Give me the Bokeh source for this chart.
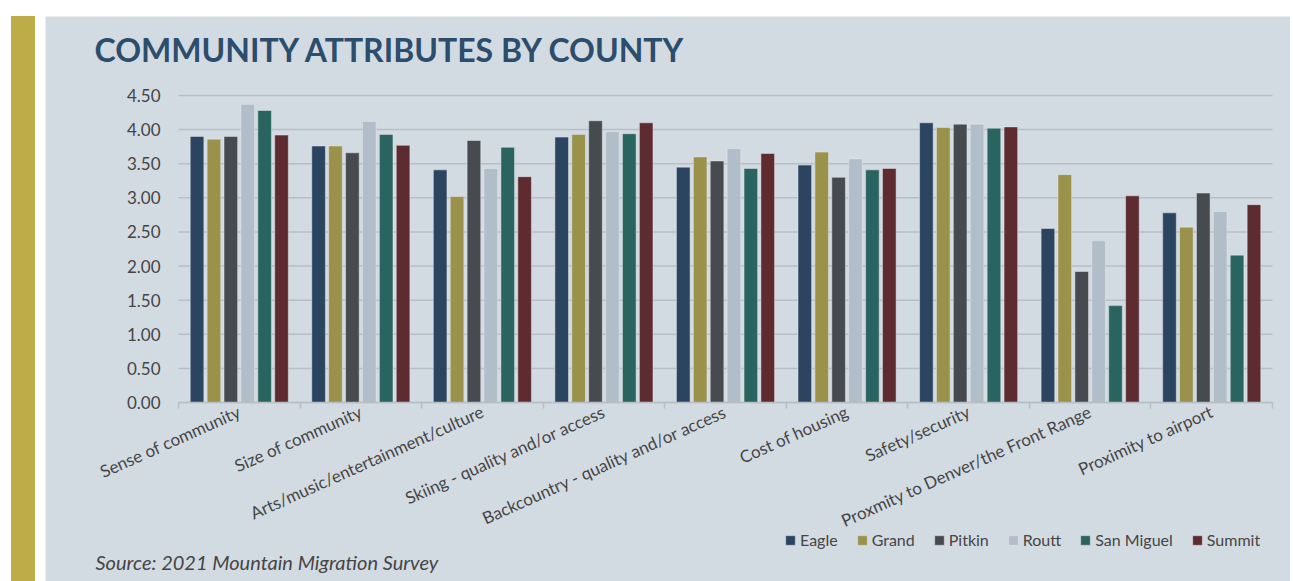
from bokeh.plotting import figure
from bokeh.models import (Range1d, LinearAxis, FixedTicker, Legend, LegendItem, Label,
                          ColumnDataSource, Div, NumeralTickFormatter)
from bokeh.transform import dodge
from bokeh.layouts import row
from bokeh.embed import file_html
from bokeh.resources import INLINE

categories = ["Sense of community", "Size of community", "Arts/music/entertainment/culture",
              "Skiing - quality and/or access", "Backcountry - quality and/or access",
              "Cost of housing", "Safety/security", "Proxmity to Denver/the Front Range",
              "Proximity to airport"]
counties = ["Eagle", "Grand", "Pitkin", "Routt", "San Miguel", "Summit"]
eagle = [3.90, 3.76, 3.41, 3.89, 3.45, 3.48, 4.10, 2.55, 2.78]
grand = [3.86, 3.76, 3.02, 3.93, 3.60, 3.67, 4.03, 3.34, 2.57]
pitkin = [3.90, 3.66, 3.84, 4.13, 3.54, 3.30, 4.08, 1.92, 3.07]
routt = [4.37, 4.12, 3.43, 3.97, 3.72, 3.57, 4.08, 2.37, 2.80]
san_miguel = [4.28, 3.93, 3.74, 3.94, 3.43, 3.41, 4.02, 1.42, 2.16]
summit = [3.92, 3.77, 3.31, 4.10, 3.65, 3.43, 4.04, 3.03, 2.90]
y_ticks = [0, 0.5, 1, 1.5, 2, 2.5, 3, 3.5, 4, 4.5]

colors = ["#2b4560", "#9a914b", "#474a4f", "#b1bdc8", "#2a6460", "#5e2c30"]
PANEL = "#d3dbe2"
GRID = "#b7bec6"
GOLD = "#bcad48"
TXT = "#454545"
FONT = "Lato"

W, H = 1245, 565           # panel size in px
FL, FR, FT, FB = 133, 1227, 79, 386   # plot-area edges (px) inside the panel
n = len(categories)
ymax = 4.5
px_x = (FR - FL) / n
px_y = (FB - FT) / ymax

centers = [i + 0.5 for i in range(n)]
src = ColumnDataSource(dict(x=centers, Eagle=eagle, Grand=grand, Pitkin=pitkin,
                            Routt=routt, SanMiguel=san_miguel, Summit=summit))
cols = ["Eagle", "Grand", "Pitkin", "Routt", "SanMiguel", "Summit"]

p = figure(width=W, height=H, title=None,
           x_range=Range1d(-FL / px_x, n + (W - FR) / px_x),
           y_range=Range1d(-(H - FB) / px_y, ymax + FT / px_y),
           output_backend="svg", toolbar_location=None,
           x_axis_location=None, y_axis_location=None, min_border=0)
p.background_fill_color = PANEL
p.border_fill_color = PANEL
p.outline_line_color = None
p.grid.visible = False
p.margin = (16, 0, 0, 0)

# horizontal gridlines across the plot area
p.segment(x0=0, x1=n, y0=y_ticks, y1=y_ticks, line_color=GRID, line_width=1.5)

step = 0.139
width = 0.112
items = []
for i, (c, name) in enumerate(zip(cols, counties)):
    r = p.vbar(x=dodge("x", (i - 2.5) * step), top=c, width=width, source=src,
               fill_color=colors[i], line_color="#e6eaee", line_width=0.8, line_alpha=0.6)
    items.append(LegendItem(label=name, renderers=[r]))

yax = LinearAxis(ticker=FixedTicker(ticks=y_ticks), formatter=NumeralTickFormatter(format="0.00"),
                 fixed_location=0, axis_line_color=None, major_tick_line_color=None,
                 minor_tick_line_color=None, major_tick_out=0, major_tick_in=0,
                 major_label_standoff=18, major_label_text_font=FONT,
                 major_label_text_font_size="17px", major_label_text_color=TXT)
p.add_layout(yax, "left")

tax = LinearAxis(ticker=FixedTicker(ticks=list(range(n + 1))), fixed_location=0, bounds=(0, n),
                 axis_line_color=GRID, axis_line_width=1.5, major_tick_line_color=GRID,
                 major_tick_line_width=1.5, major_tick_out=6, major_tick_in=0,
                 minor_tick_line_color=None, major_label_text_alpha=0,
                 major_label_overrides={i: "" for i in range(n + 1)})
p.add_layout(tax, "below")

lax = LinearAxis(ticker=FixedTicker(ticks=centers), fixed_location=0,
                 major_label_overrides={c: lab for c, lab in zip(centers, categories)},
                 axis_line_color=None, major_tick_line_color=None, minor_tick_line_color=None,
                 major_tick_out=0, major_tick_in=0, major_label_orientation=0.42,
                 major_label_standoff=8, major_label_text_font=FONT,
                 major_label_text_font_size="17px", major_label_text_color=TXT)
p.add_layout(lax, "below")

leg = Legend(items=items, orientation="horizontal", location=(739, 32),
             background_fill_alpha=0, border_line_alpha=0,
             label_text_font=FONT, label_text_font_size="16px", label_text_color=TXT,
             glyph_width=12, glyph_height=12, label_standoff=4, spacing=18, padding=0,
             margin=0)
p.add_layout(leg, "center")

p.add_layout(Label(x=49, y=532, x_units="screen", y_units="screen",
                   text="COMMUNITY ATTRIBUTES BY COUNTY", text_font=FONT, text_font_size="32px",
                   text_font_style="bold", text_color="#2d4d6c", text_baseline="middle"))
p.add_layout(Label(x=50, y=20, x_units="screen", y_units="screen",
                   text="Source: 2021 Mountain Migration Survey", text_font=FONT,
                   text_font_size="20px", text_font_style="italic", text_color=TXT,
                   text_baseline="middle"))

stripe = Div(text="", width=24, height=H, styles={"background-color": GOLD})
stripe.margin = (16, 10, 0, 11)

layout = row(stripe, p)
open("out.html", "w").write(file_html(layout, INLINE))
